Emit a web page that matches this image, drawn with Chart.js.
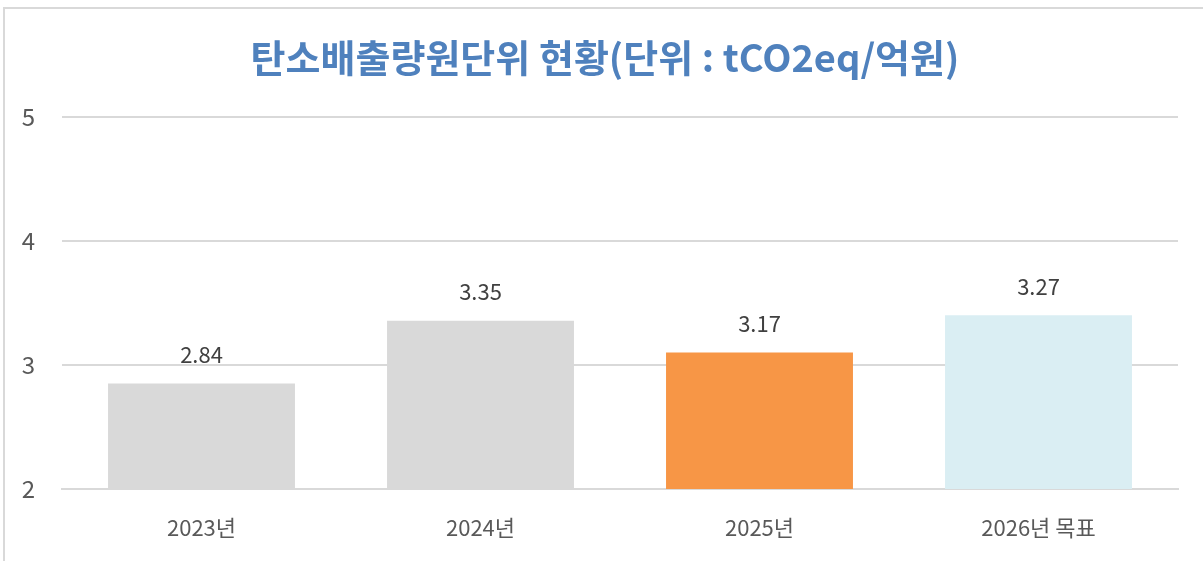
<!DOCTYPE html>
<html>
<head>
<meta charset="utf-8">
<script src="https://cdn.jsdelivr.net/npm/chart.js@4/dist/chart.umd.min.js"></script>
<style>
  html, body { margin: 0; padding: 0; background: #fff; }
  #wrap { position: relative; width: 1203px; height: 561px; overflow: hidden; }
  #frame { position: absolute; left: 3px; top: 7px; width: 1400px; height: 700px;
           border-left: 2px solid #d9d9d9; border-top: 2px solid #d9d9d9; pointer-events: none; }
</style>
</head>
<body>
<div id="wrap">
  <canvas id="grafico" width="1203" height="561"></canvas>
  <div id="frame"></div>
</div>
<script>
const categorias = ["2023년", "2024년", "2025년", "2026년 목표"];
// bar heights as drawn in the picture
const valores = [2.85, 3.355, 3.10, 3.40];
// labels printed above the bars
const etiquetas = ["2.84", "3.35", "3.17", "3.27"];
const colores = ["#d9d9d9", "#d9d9d9", "#f79646", "#daeef3"];
const ticksY = [2, 3, 4, 5];

const fuente = "'Noto Sans CJK KR', 'Noto Sans', sans-serif";

const etiquetasPlugin = {
    id: "etiquetas",
    afterLayout(chart) {
        // title sits a bit right of the canvas centre
        if (chart.titleBlock) chart.titleBlock.left += 32;
    },
    afterDatasetsDraw(chart) {
        const ctx = chart.ctx;
        const meta = chart.getDatasetMeta(0);
        ctx.save();
        ctx.font = "22px " + fuente;
        ctx.fillStyle = "#404040";
        ctx.textAlign = "center";
        ctx.textBaseline = "bottom";
        meta.data.forEach((bar, i) => {
            ctx.fillText(etiquetas[i], bar.x, bar.y - 18);
        });
        ctx.restore();
    },
};

const dataGrafico = {
    labels: categorias,
    datasets: [
        {
            type: "bar",
            label: "탄소배출량원단위",
            data: valores,
            backgroundColor: colores,
            borderWidth: 0,
            barPercentage: 0.67,
            categoryPercentage: 1.0,
        },
    ],
};

const configGrafico = {
    data: dataGrafico,
    options: {
        responsive: false,
        animation: false,
        layout: {
            padding: { top: 20, right: 25, bottom: 0, left: 0 },
        },
        scales: {
            x: {
                afterFit(scale) {
                    scale.height = 72;
                },
                grid: { display: false, drawTicks: false },
                border: { display: true, color: "#d9d9d9", width: 2 },
                ticks: {
                    padding: 25,
                    color: "#595959",
                    font: { size: 22, family: fuente },
                },
            },
            y: {
                min: ticksY[0],
                max: ticksY[ticksY.length - 1],
                afterBuildTicks(scale) {
                    scale.ticks = ticksY.map((v) => ({ value: v }));
                },
                afterFit(scale) {
                    scale.width = 62;
                },
                grid: { color: "#d9d9d9", lineWidth: 2, drawTicks: false },
                border: { display: false },
                ticks: {
                    padding: 27,
                    color: "#595959",
                    font: { size: 24, family: fuente },
                },
            },
        },
        plugins: {
            legend: { display: false },
            tooltip: { enabled: false },
            title: {
                display: true,
                text: "탄소배출량원단위 현황(단위 : tCO2eq/억원)",
                color: "#4f81bd",
                padding: { top: 15, bottom: 36 },
                font: { weight: "bold", size: 38, family: fuente },
            },
        },
    },
    plugins: [etiquetasPlugin],
};

const chart = new Chart(document.getElementById("grafico"), configGrafico);
</script>
</body>
</html>
